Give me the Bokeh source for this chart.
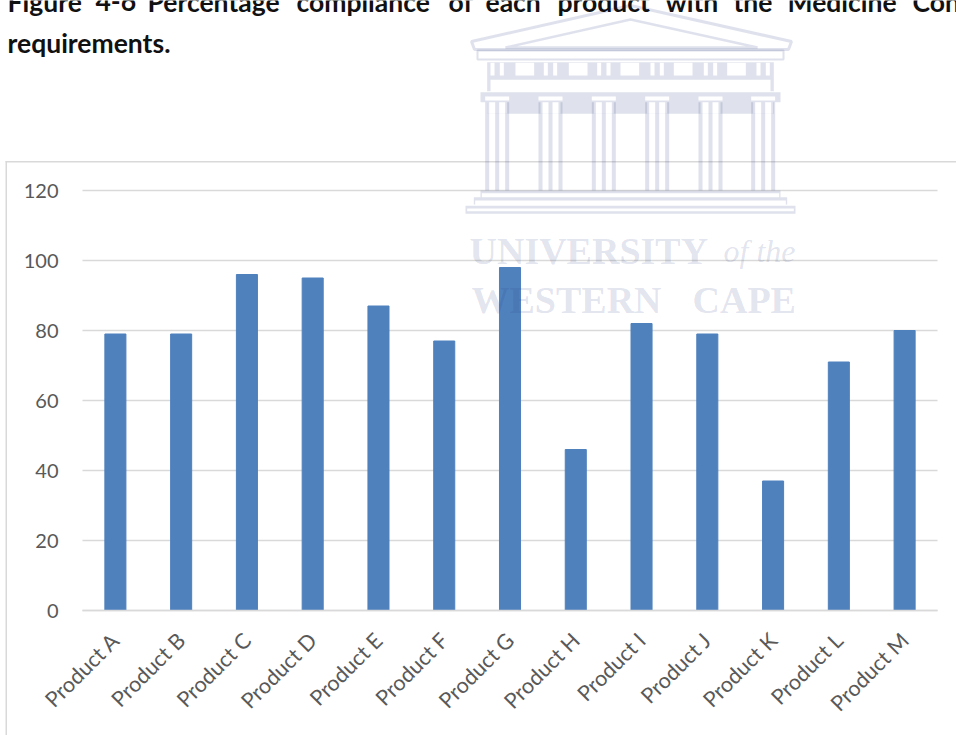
from bokeh.plotting import figure
from bokeh.models import Label, BoxAnnotation, PolyAnnotation, FixedTicker, Range1d, LinearAxis
from bokeh.embed import file_html
from bokeh.resources import INLINE

products = ["Product A", "Product B", "Product C", "Product D", "Product E", "Product F", "Product G",
            "Product H", "Product I", "Product J", "Product K", "Product L", "Product M"]
compliance = [79, 79, 96, 95, 87, 77, 98, 46, 82, 79, 37, 71, 80]
y_ticks = [0, 20, 40, 60, 80, 100, 120]
title_words = ["Figure", "4-6", "Percentage", "compliance", "of", "each", "product", "with", "the", "Medicine", "Con"]
title_word_x = [7, 95, 147, 296, 448, 485, 557, 665, 733, 787, 912]
title_second_line = "requirements."

GRID = "#D9D9D9"
TICK = "#595959"
BAR = "#4F81BD"
CREST = "#2A3A80"
CREST_ALPHA = 0.15
FONT = "Lato"
LEVEL = "annotation"

W, H = 956, 735
PLOT_L, PLOT_R, PLOT_T, PLOT_B = 82, 937, 190, 610
n = len(products)
unit_x = (PLOT_R - PLOT_L) / n
unit_y = (PLOT_B - PLOT_T) / y_ticks[-1]
x_start = -0.5 - PLOT_L / unit_x
positions = list(range(n))

p = figure(x_range=Range1d(x_start, x_start + W / unit_x),
           y_range=Range1d(-(H - PLOT_B) / unit_y, PLOT_B / unit_y),
           width=W, height=H, output_backend="svg", toolbar_location=None,
           min_border_left=0, min_border_right=0, min_border_top=0, min_border_bottom=0,
           x_axis_location=None, y_axis_location=None)
p.outline_line_color = None
p.background_fill_color = "white"
p.border_fill_color = "white"
p.xgrid.visible = False
p.ygrid.visible = False

p.segment(x0=[-0.5] * len(y_ticks), x1=[n - 0.5] * len(y_ticks), y0=y_ticks, y1=y_ticks,
          line_color=GRID, line_width=1.3, level="underlay")
p.vbar(x=positions, top=compliance, width=0.32, color=BAR)

yaxis = LinearAxis(ticker=FixedTicker(ticks=y_ticks), fixed_location=-0.5, bounds=(0, 120))
yaxis.axis_line_color = None
yaxis.major_tick_line_color = None
yaxis.minor_tick_line_color = None
yaxis.major_label_text_font = FONT
yaxis.major_label_text_font_size = "20px"
yaxis.major_label_text_color = TICK
yaxis.major_label_standoff = 18
p.add_layout(yaxis, "left")

xaxis = LinearAxis(ticker=FixedTicker(ticks=positions), fixed_location=0, bounds=(-0.5, n - 0.5),
                   major_label_overrides=dict(zip(positions, products)))
xaxis.axis_line_color = GRID
xaxis.axis_line_width = 1.6
xaxis.major_tick_line_color = None
xaxis.minor_tick_line_color = None
xaxis.major_label_orientation = 0.785
xaxis.major_label_text_font = FONT
xaxis.major_label_text_font_size = "21.5px"
xaxis.major_label_text_color = TICK
xaxis.major_label_standoff = 20
p.add_layout(xaxis, "below")


def rect(x0, y0, x1, y1, color=CREST, alpha=CREST_ALPHA):
    p.add_layout(BoxAnnotation(left=x0, right=x1, top=y0, bottom=y1,
                               left_units="canvas", right_units="canvas", top_units="canvas", bottom_units="canvas",
                               fill_color=color, fill_alpha=alpha, line_color=None, level=LEVEL, editable=False))


def white(x0, y0, x1, y1):
    rect(x0, y0, x1, y1, "white", 1.0)


def outline(xs, ys, w=3):
    p.add_layout(PolyAnnotation(xs=xs, ys=ys, xs_units="canvas", ys_units="canvas",
                                fill_alpha=0, line_color=CREST, line_alpha=CREST_ALPHA, line_width=w, level=LEVEL))


def zx(v):
    return 440 + v / 3


def zy(v):
    return v / 3


# chart area frame
rect(5, 160.5, 956, 162, GRID, 1.0)
rect(5, 160.5, 6.5, 735, GRID, 1.0)

# watermark crest
outline([471, 630, 791, 788, 474], [41, 5, 41, 49, 49])
outline([505, 630, 757], [47, 19, 47], 2.5)
outline([477, 783, 783, 477], [50, 50, 59, 59], 2)
rect(zx(140), zy(185), zx(1000), zy(238))
for a in [225, 385, 540, 700, 860]:
    white(zx(a), zy(187), zx(a + 56), zy(225))
for c in [170, 330, 490, 650, 810, 968]:
    white(zx(c - 20), zy(187), zx(c - 8), zy(225))
    white(zx(c + 8), zy(187), zx(c + 20), zy(225))
rect(zx(140), zy(238), zx(150), zy(272))
rect(zx(990), zy(238), zx(1000), zy(272))
rect(zx(120), zy(275), zx(1020), zy(305))
rect(zx(140), zy(305), zx(1000), zy(340))
for c in [170, 330, 490, 650, 810, 968]:
    white(zx(c - 36), zy(288), zx(c + 36), zy(300))
    white(zx(c - 30), zy(305), zx(c + 30), zy(340))
    for d in [-30, 0, 30]:
        rect(zx(c + d - 6), zy(305), zx(c + d + 6), zy(570))
rect(zx(120), zy(570), zx(1020), zy(578))
rect(zx(120), zy(578), zx(124), zy(590))
rect(zx(1016), zy(578), zx(1020), zy(590))
rect(zx(100), zy(590), zx(1040), zy(600))
rect(zx(100), zy(600), zx(104), zy(612))
rect(zx(1036), zy(600), zx(1040), zy(612))
rect(zx(75), zy(616), zx(1065), zy(624))
rect(zx(75), zy(632), zx(1065), zy(640))
rect(zx(75), zy(624), zx(80), zy(632))
rect(zx(1060), zy(624), zx(1065), zy(632))


def text(x, y, s, size, color, style="normal", font=FONT, alpha=1.0):
    p.add_layout(Label(x=x, y=y, x_units="canvas", y_units="canvas", text=s, text_font=font,
                       text_font_size=size, text_font_style=style, text_color=color, text_alpha=alpha,
                       text_baseline="alphabetic", level=LEVEL))


text(469, 250, "UNIVERSITY", "38px", CREST, "bold", "Liberation Serif", CREST_ALPHA)
text(723, 250, "of the", "32px", CREST, "italic", "Liberation Serif", CREST_ALPHA)
text(471, 299, "WESTERN", "38px", CREST, "bold", "Liberation Serif", CREST_ALPHA)
text(692, 299, "CAPE", "38px", CREST, "bold", "Liberation Serif", CREST_ALPHA)

for word, x in zip(title_words, title_word_x):
    text(x, 1, word, "26.5px", "#111111", "bold")
text(7, 42, title_second_line, "26.5px", "#111111", "bold")

open("out.html", "w").write(file_html(p, INLINE))
